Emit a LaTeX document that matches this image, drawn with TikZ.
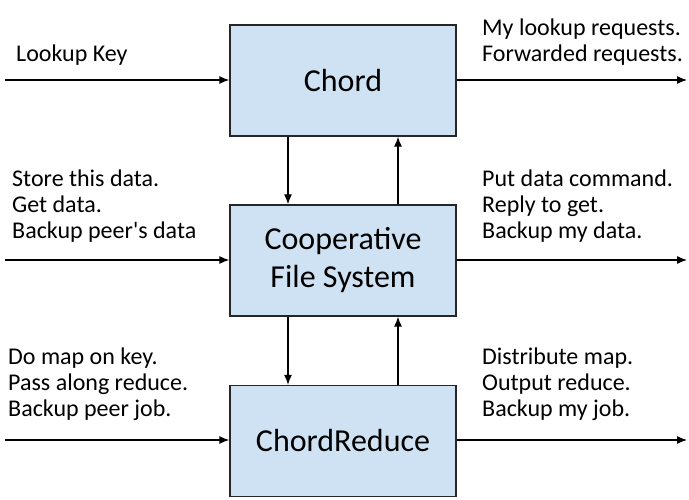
\documentclass[tikz,border=0pt]{standalone}
\usepackage{fontspec}
\newfontfamily\calfont{Carlito}
\usetikzlibrary{arrows.meta}
\begin{document}
\begin{tikzpicture}[x=1pt,y=-1pt,
  blk/.style={draw=black!85,line width=1.3pt,fill={rgb,255:red,207;green,226;blue,243},minimum width=226pt,minimum height=111pt,inner sep=0pt,font=\calfont\fontsize{32}{38}\selectfont,align=center},
  lbl/.style={anchor=west,align=left,inner sep=0pt,font=\calfont\fontsize{24}{26}\selectfont},
  arr/.style={-{Latex[length=10pt,width=8pt]},line width=1.2pt}]
\useasboundingbox (0,0) rectangle (689,500);
\node[blk] (chord) at (343,80.5) {Chord};
\node[blk] (cfs) at (343,260.5) {Cooperative\\File System};
\node[blk] (cr) at (343,441) {ChordReduce};
\coordinate (l1) at (5,80);
\coordinate (r1) at (687,80);
\coordinate (l2) at (5,260);
\coordinate (r2) at (687,260);
\coordinate (l3) at (5,440);
\coordinate (r3) at (687,440);
\draw[arr] (l1) -- (chord.west|-l1);
\draw[arr] (chord.east|-r1) -- (r1);
\draw[arr] (l2) -- (cfs.west|-l2);
\draw[arr] (cfs.east|-r2) -- (r2);
\draw[arr] (l3) -- (cr.west|-l3);
\draw[arr] (cr.east|-r3) -- (r3);
\draw[arr] (chord.south-|288,0) -- (cfs.north-|288,0);
\draw[arr] (cfs.north-|398,0) -- (chord.south-|398,0);
\draw[arr] (cfs.south-|288,0) -- (cr.north-|288,0);
\draw[arr] (cr.north-|398,0) -- (cfs.south-|398,0);
\node[lbl] (t1) at (16,55) {Lookup Key};
\node[lbl] (t2) at (482,42) {My lookup requests.\\Forwarded requests.};
\node[lbl] (t3) at (12,206) {Store this data.\\Get data.\\Backup peer's data};
\node[lbl] (t4) at (482,206) {Put data command.\\Reply to get.\\Backup my data.};
\node[lbl] (t5) at (8,384) {Do map on key.\\Pass along reduce.\\Backup peer job.};
\node[lbl] (t6) at (482,384) {Distribute map.\\Output reduce.\\Backup my job.};
\end{tikzpicture}
\end{document}
